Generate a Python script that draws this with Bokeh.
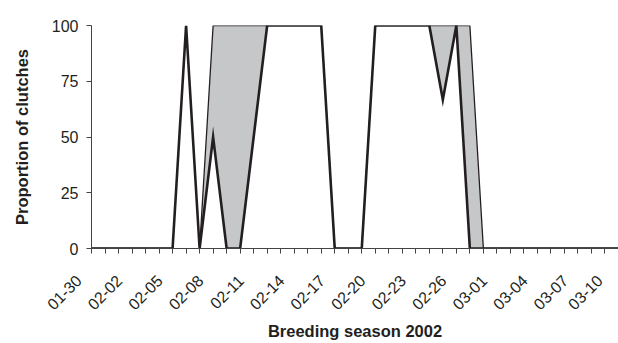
import math
from bokeh.plotting import figure
from bokeh.models import Range1d, FixedTicker
from bokeh.embed import file_html
from bokeh.resources import INLINE

# Day index 0 = 2002-01-30 ... 39 = 2002-03-10
days = list(range(40))
tick_days = [0, 3, 6, 9, 12, 15, 18, 21, 24, 27, 30, 33, 36, 39]
tick_labels = ["01-30", "02-02", "02-05", "02-08", "02-11", "02-14", "02-17",
               "02-20", "02-23", "02-26", "03-01", "03-04", "03-07", "03-10"]

# black series (line, white-filled)
black = [0, 0, 0, 0, 0, 0, 0, 100, 0, 50,
         0, 0, 50, 100, 100, 100, 100, 100, 0, 0,
         0, 100, 100, 100, 100, 100, 66.7, 100, 0, 0,
         0, 0, 0, 0, 0, 0, 0, 0, 0, 0]
# grey series (area)
grey = [0, 0, 0, 0, 0, 0, 0, 0, 0, 100,
        100, 100, 100, 100, 100, 100, 100, 100, 0, 0,
        0, 100, 100, 100, 100, 100, 100, 100, 100, 0,
        0, 0, 0, 0, 0, 0, 0, 0, 0, 0]

INK = "#231f20"
FONT = "Liberation Sans"
PAD = "\u00a0" * 4  # nudges the rotated labels so they end just left of their tick

p = figure(width=618, height=343, output_backend="svg", toolbar_location=None,
           x_range=Range1d(0, 39), y_range=Range1d(0, 100),
           min_border_left=91, min_border_right=0, min_border_top=25,
           min_border_bottom=90)
p.outline_line_color = None
p.grid.visible = False
p.background_fill_color = "white"
p.border_fill_color = "white"

p.varea(x=days, y1=0, y2=grey, fill_color="#c6c7c9")
p.line(days, grey, line_color=INK, line_width=1.3)
p.varea(x=days, y1=0, y2=black, fill_color="white")
p.line(days, black, line_color=INK, line_width=2.6, line_join="miter")

xa = p.xaxis[0]
xa.ticker = FixedTicker(ticks=tick_days, minor_ticks=days)
xa.major_label_overrides = {d: l + PAD for d, l in zip(tick_days, tick_labels)}
xa.major_label_orientation = math.pi / 4
xa.major_tick_out = 0
xa.major_tick_in = 0
xa.minor_tick_out = 5
xa.minor_tick_in = 0
xa.major_tick_line_color = "#444444"
xa.minor_tick_line_color = "#444444"
xa.axis_line_color = "#444444"
xa.major_label_standoff = 12
xa.major_label_text_font = FONT
xa.major_label_text_font_size = "16px"
xa.major_label_text_color = INK
xa.axis_label = "Breeding season 2002"
xa.axis_label_text_font = FONT
xa.axis_label_text_font_size = "16.5px"
xa.axis_label_text_font_style = "bold"
xa.axis_label_text_color = INK
xa.axis_label_standoff = 0

ya = p.yaxis[0]
ya.ticker = FixedTicker(ticks=[0, 25, 50, 75, 100], minor_ticks=[])
ya.major_tick_out = 5
ya.major_tick_in = 0
ya.major_tick_line_color = "#444444"
ya.axis_line_color = "#444444"
ya.major_label_standoff = 8
ya.major_label_text_font = FONT
ya.major_label_text_font_size = "16px"
ya.major_label_text_color = INK
ya.axis_label = "Proportion of clutches"
ya.axis_label_text_font = FONT
ya.axis_label_text_font_size = "16.5px"
ya.axis_label_text_font_style = "bold"
ya.axis_label_text_color = INK
ya.axis_label_standoff = 18

open("out.html", "w").write(file_html(p, INLINE))
